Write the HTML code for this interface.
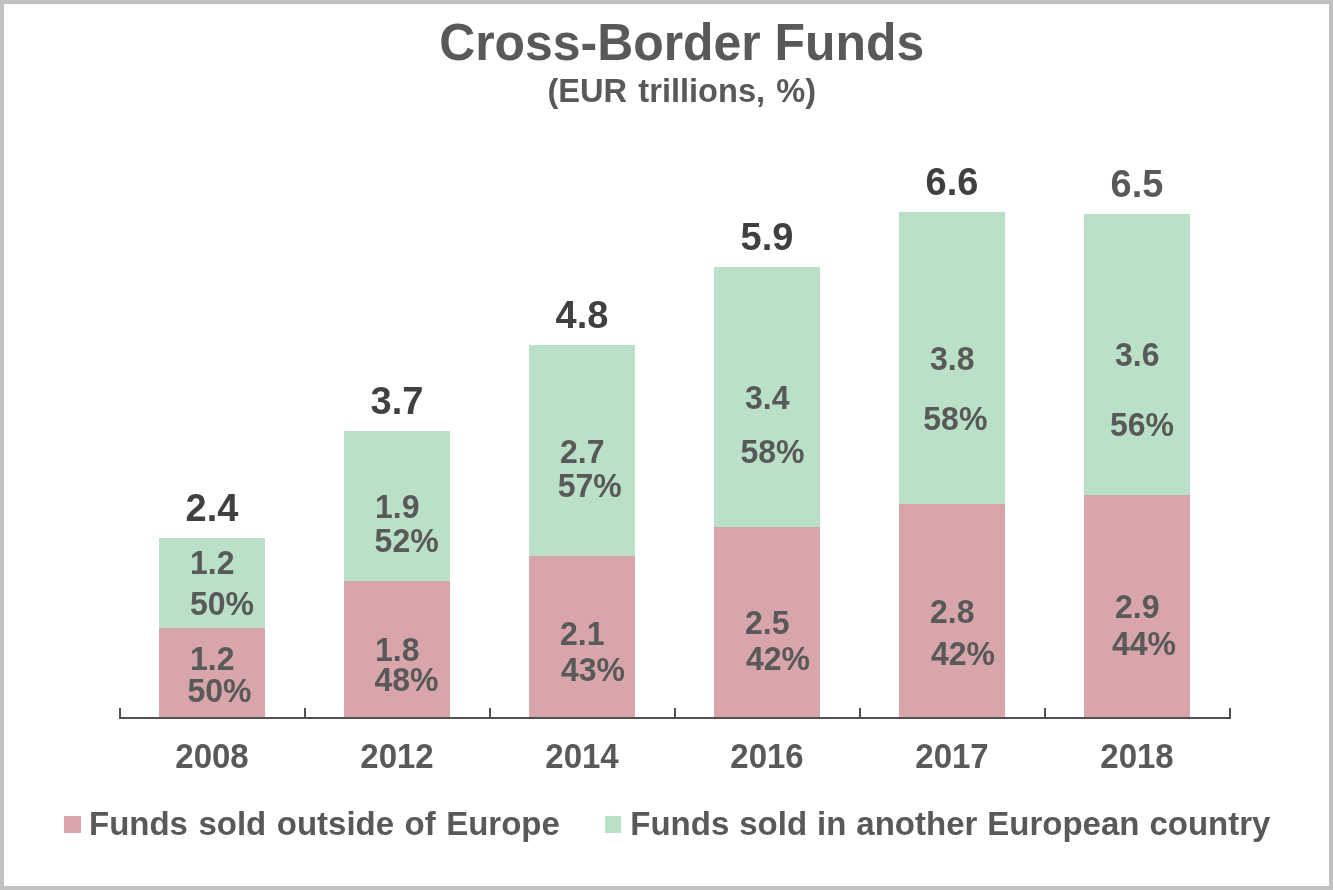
<!DOCTYPE html>
<html lang="en"><head><meta charset="utf-8"><title>Cross-Border Funds</title>
<style>
html,body{margin:0;padding:0;background:#fff;}
body{width:1333px;height:890px;overflow:hidden;font-family:"Liberation Sans",sans-serif;}
#frame{position:absolute;left:0;top:0;width:1325px;height:882px;border:4px solid #c1c1c1;background:#fff;}
svg{position:absolute;left:0;top:0;}
text{font-family:"Liberation Sans",sans-serif;font-weight:bold;}
.t{fill:#595959;}
.d{fill:#404040;}
</style></head><body>
<div id="frame"></div>
<svg width="1333" height="890" viewBox="0 0 1333 890">
<rect x="159.0" y="538" width="106" height="90" fill="#bae1c8"/>
<rect x="159.0" y="628" width="106" height="90" fill="#d8a5aa"/>
<rect x="344.0" y="431" width="106" height="150" fill="#bae1c8"/>
<rect x="344.0" y="581" width="106" height="137" fill="#d8a5aa"/>
<rect x="529.0" y="345" width="106" height="211" fill="#bae1c8"/>
<rect x="529.0" y="556" width="106" height="162" fill="#d8a5aa"/>
<rect x="714.0" y="267" width="106" height="260" fill="#bae1c8"/>
<rect x="714.0" y="527" width="106" height="191" fill="#d8a5aa"/>
<rect x="899.0" y="212" width="106" height="292" fill="#bae1c8"/>
<rect x="899.0" y="504" width="106" height="214" fill="#d8a5aa"/>
<rect x="1084.0" y="214" width="106" height="281" fill="#bae1c8"/>
<rect x="1084.0" y="495" width="106" height="223" fill="#d8a5aa"/>
<path d="M120 708V718H1230V708" fill="none" stroke="#505050" stroke-width="2"/>
<path d="M305 708V718" stroke="#505050" stroke-width="2"/>
<path d="M490 708V718" stroke="#505050" stroke-width="2"/>
<path d="M675 708V718" stroke="#505050" stroke-width="2"/>
<path d="M860 708V718" stroke="#505050" stroke-width="2"/>
<path d="M1045 708V718" stroke="#505050" stroke-width="2"/>
<text transform="translate(681.7,59.6) scale(1,1.02)" font-size="49.9" class="t" text-anchor="middle">Cross-Border Funds</text>
<text transform="translate(681.8,101.9) scale(1,1.04)" font-size="32.6" class="t" text-anchor="middle" word-spacing="2.2">(EUR trillions, %)</text>
<text transform="translate(212,521) scale(1,1.04)" font-size="38" class="d" text-anchor="middle">2.4</text>
<text transform="translate(397,414) scale(1,1.04)" font-size="38" class="d" text-anchor="middle">3.7</text>
<text transform="translate(582,328) scale(1,1.04)" font-size="38" class="d" text-anchor="middle">4.8</text>
<text transform="translate(767,249.7) scale(1,1.04)" font-size="38" class="d" text-anchor="middle">5.9</text>
<text transform="translate(952,195) scale(1,1.04)" font-size="38" class="d" text-anchor="middle">6.6</text>
<text transform="translate(1137,197) scale(1,1.04)" font-size="38" class="t" text-anchor="middle">6.5</text>
<text transform="translate(190,573.8) scale(1,1.05)" font-size="32" class="t" text-anchor="start">1.2</text>
<text transform="translate(190,614.8) scale(1,1.05)" font-size="32" class="t" text-anchor="start">50%</text>
<text transform="translate(190,670.2) scale(1,1.05)" font-size="32" class="t" text-anchor="start">1.2</text>
<text transform="translate(187.4,702.3) scale(1,1.05)" font-size="32" class="t" text-anchor="start">50%</text>
<text transform="translate(375,517.7) scale(1,1.05)" font-size="32" class="t" text-anchor="start">1.9</text>
<text transform="translate(374.6,552) scale(1,1.05)" font-size="32" class="t" text-anchor="start">52%</text>
<text transform="translate(375,661) scale(1,1.05)" font-size="32" class="t" text-anchor="start">1.8</text>
<text transform="translate(374.5,691.1) scale(1,1.05)" font-size="32" class="t" text-anchor="start">48%</text>
<text transform="translate(560,462.6) scale(1,1.05)" font-size="32" class="t" text-anchor="start">2.7</text>
<text transform="translate(557.7,497.3) scale(1,1.05)" font-size="32" class="t" text-anchor="start">57%</text>
<text transform="translate(560,644.9) scale(1,1.05)" font-size="32" class="t" text-anchor="start">2.1</text>
<text transform="translate(561,680.8) scale(1,1.05)" font-size="32" class="t" text-anchor="start">43%</text>
<text transform="translate(745,408.8) scale(1,1.05)" font-size="32" class="t" text-anchor="start">3.4</text>
<text transform="translate(740.4,463.3) scale(1,1.05)" font-size="32" class="t" text-anchor="start">58%</text>
<text transform="translate(745,634.3) scale(1,1.05)" font-size="32" class="t" text-anchor="start">2.5</text>
<text transform="translate(746,670.3) scale(1,1.05)" font-size="32" class="t" text-anchor="start">42%</text>
<text transform="translate(930,370) scale(1,1.05)" font-size="32" class="t" text-anchor="start">3.8</text>
<text transform="translate(923.3,430) scale(1,1.05)" font-size="32" class="t" text-anchor="start">58%</text>
<text transform="translate(930,623.1) scale(1,1.05)" font-size="32" class="t" text-anchor="start">2.8</text>
<text transform="translate(931,665.3) scale(1,1.05)" font-size="32" class="t" text-anchor="start">42%</text>
<text transform="translate(1115,366.3) scale(1,1.05)" font-size="32" class="t" text-anchor="start">3.6</text>
<text transform="translate(1110,435.7) scale(1,1.05)" font-size="32" class="t" text-anchor="start">56%</text>
<text transform="translate(1115,618) scale(1,1.05)" font-size="32" class="t" text-anchor="start">2.9</text>
<text transform="translate(1112,655.3) scale(1,1.05)" font-size="32" class="t" text-anchor="start">44%</text>
<text transform="translate(212,768.3) scale(1,1.04)" font-size="33" class="t" text-anchor="middle">2008</text>
<text transform="translate(397,768.3) scale(1,1.04)" font-size="33" class="t" text-anchor="middle">2012</text>
<text transform="translate(582,768.3) scale(1,1.04)" font-size="33" class="t" text-anchor="middle">2014</text>
<text transform="translate(767,768.3) scale(1,1.04)" font-size="33" class="t" text-anchor="middle">2016</text>
<text transform="translate(952,768.3) scale(1,1.04)" font-size="33" class="t" text-anchor="middle">2017</text>
<text transform="translate(1137,768.3) scale(1,1.04)" font-size="33" class="t" text-anchor="middle">2018</text>
<rect x="64" y="816" width="17" height="17" fill="#d8a5aa"/>
<text transform="translate(89,835) scale(1,1.02)" font-size="33" class="t" text-anchor="start" word-spacing="1.3">Funds sold outside of Europe</text>
<rect x="605" y="816" width="16" height="17" fill="#bae1c8"/>
<text transform="translate(630.3,835) scale(1,1.02)" font-size="33" class="t" text-anchor="start" word-spacing="0.8">Funds sold in another European country</text>
</svg>
</body></html>
